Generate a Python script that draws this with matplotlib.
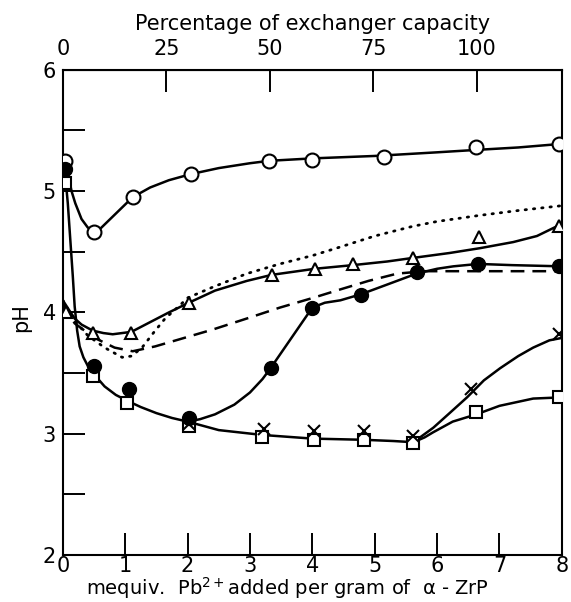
import numpy as np
import matplotlib
matplotlib.use("Agg")
import matplotlib.pyplot as plt
from matplotlib.ticker import FixedLocator, FuncFormatter

# mequiv Pb2+ per gram, pH
open_x = [0.03, 0.5, 1.12, 2.05, 3.31, 4.0, 5.15, 6.63, 7.95]
open_y = [5.25, 4.66, 4.95, 5.14, 5.25, 5.26, 5.28, 5.36, 5.39]

tri_x = [0.05, 0.48, 1.1, 2.02, 3.35, 4.05, 4.65, 5.62, 6.67, 7.96]
tri_y = [4.0, 3.83, 3.83, 4.08, 4.31, 4.36, 4.40, 4.45, 4.62, 4.71]

fill_x = [0.03, 0.5, 1.06, 2.03, 3.33, 4.0, 4.78, 5.67, 6.66, 7.96]
fill_y = [5.18, 3.56, 3.37, 3.13, 3.54, 4.04, 4.14, 4.33, 4.40, 4.38]

sq_x = [0.03, 0.48, 1.03, 2.03, 3.2, 4.02, 4.83, 5.62, 6.63, 7.95]
sq_y = [5.07, 3.48, 3.25, 3.06, 2.97, 2.95, 2.95, 2.92, 3.18, 3.30]

cross_x = [2.02, 3.22, 4.02, 4.83, 5.62, 6.55, 7.95]
cross_y = [3.08, 3.04, 3.02, 3.02, 2.98, 3.37, 3.82]

# drawn curves
open_cx = [0.03, 0.1, 0.14, 0.2, 0.3, 0.4, 0.5, 0.6, 0.8, 1.0, 1.12, 1.4, 1.7, 2.05,
           2.5, 3.0, 3.31, 4.0, 5.0, 6.0, 6.63, 7.3, 8.0]
open_cy = [5.25, 5.1, 5.0, 4.9, 4.77, 4.7, 4.67, 4.69, 4.79, 4.89, 4.95, 5.03, 5.09, 5.14,
           5.19, 5.23, 5.25, 5.27, 5.29, 5.32, 5.34, 5.36, 5.39]

tri_cx = [0.0, 0.1, 0.19, 0.3, 0.48, 0.65, 0.8, 1.1, 1.4, 1.7, 2.02, 2.44, 2.95, 3.35,
          4.04, 4.65, 5.2, 5.62, 6.2, 6.69, 7.22, 7.6, 8.0]
tri_cy = [4.1, 4.02, 3.95, 3.9, 3.85, 3.83, 3.82, 3.84, 3.92, 4.0, 4.08, 4.18, 4.26, 4.31,
          4.36, 4.39, 4.42, 4.45, 4.49, 4.53, 4.58, 4.63, 4.73]

# steep drop shared by filled-circle and square curves
drop_cx = [0.03, 0.08, 0.12, 0.16, 0.19, 0.23, 0.27, 0.33, 0.4, 0.5, 0.67, 0.85, 1.04,
           1.25, 1.5, 1.75, 2.0]
drop_cy = [5.18, 4.9, 4.6, 4.3, 4.05, 3.85, 3.72, 3.63, 3.56, 3.49, 3.39, 3.32, 3.27,
           3.22, 3.17, 3.13, 3.10]

fill_cx = [2.0, 2.2, 2.44, 2.75, 3.0, 3.2, 3.33, 4.0, 4.2, 4.45, 4.78, 5.2, 5.67, 6.0,
           6.26, 6.66, 7.2, 8.0]
fill_cy = [3.10, 3.12, 3.16, 3.24, 3.34, 3.45, 3.54, 4.04, 4.08, 4.10, 4.15, 4.23, 4.32,
           4.36, 4.38, 4.40, 4.39, 4.38]

sq_cx = [2.0, 2.5, 3.2, 4.0, 4.83, 5.3, 5.62, 5.8, 5.93, 6.25, 6.63, 7.0, 7.54, 8.0]
sq_cy = [3.10, 3.03, 2.99, 2.96, 2.95, 2.94, 2.93, 2.97, 3.01, 3.10, 3.16, 3.23, 3.29, 3.30]

cross_cx = [5.62, 5.94, 6.2, 6.48, 6.75, 7.01, 7.3, 7.54, 7.8, 8.0]
cross_cy = [2.93, 3.05, 3.17, 3.30, 3.44, 3.54, 3.64, 3.71, 3.77, 3.79]

dot_cx = [0.0, 0.19, 0.4, 0.67, 0.95, 1.1, 1.27, 1.45, 1.64, 1.88, 2.0, 2.41, 2.95, 3.48,
          4.01, 4.45, 5.0, 5.61, 6.0, 6.68, 7.3, 8.0]
dot_cy = [4.1, 3.93, 3.81, 3.71, 3.63, 3.64, 3.71, 3.83, 3.95, 4.06, 4.12, 4.21, 4.32,
          4.40, 4.47, 4.54, 4.63, 4.71, 4.75, 4.80, 4.84, 4.88]

dash_cx = [0.0, 0.19, 0.51, 0.83, 1.12, 1.48, 1.88, 2.41, 2.95, 3.48, 4.01, 4.45, 4.9,
           5.36, 5.8, 6.5, 8.0]
dash_cy = [4.08, 3.91, 3.79, 3.71, 3.68, 3.72, 3.78, 3.86, 3.95, 4.04, 4.12, 4.19, 4.26,
           4.32, 4.34, 4.34, 4.34]

capacity = 6.64  # mequiv/g at 100 %

fig = plt.figure(figsize=(5.71, 6.02), dpi=100)
ax = fig.add_axes([0.110, 0.078, 0.874, 0.806])

lw = 1.8
kw = dict(color="black", lw=lw, solid_joinstyle="round", solid_capstyle="round")
ax.plot(open_cx, open_cy, **kw)
ax.plot(tri_cx, tri_cy, **kw)
ax.plot(drop_cx, drop_cy, **kw)
ax.plot(fill_cx, fill_cy, **kw)
ax.plot(sq_cx, sq_cy, **kw)
ax.plot(cross_cx, cross_cy, **kw)
ax.plot(dot_cx, dot_cy, color="black", lw=2.0, linestyle=(0, (0.5, 2.5)), dash_capstyle="round")
ax.plot(dash_cx, dash_cy, color="black", lw=1.8, linestyle=(0, (5.5, 3.2)))

mk = dict(linestyle="none", markeredgecolor="black", zorder=5)
ax.plot(open_x, open_y, marker="o", ms=10, mfc="white", mew=1.5, **mk)
ax.plot(tri_x, tri_y, marker="^", ms=9, mfc="white", mew=1.5, **mk)
ax.plot(sq_x, sq_y, marker="s", ms=9, mfc="white", mew=1.5, **mk)
ax.plot(fill_x, fill_y, marker="o", ms=10, mfc="black", mew=1.0, **mk)
ax.plot(cross_x, cross_y, marker="x", ms=8, mew=1.5, **mk)

ax.set_xlim(0, 8)
ax.set_ylim(2, 6)
ax.set_xticks(range(0, 9))
ax.yaxis.set_major_locator(FixedLocator(np.arange(2, 6.01, 0.5)))
ax.yaxis.set_major_formatter(FuncFormatter(lambda v, p: "%d" % v if v == int(v) else ""))
ax.tick_params(axis="both", which="both", direction="in", length=16, width=1.4,
               labelsize=15, top=False, right=False)
ax.tick_params(axis="x", pad=1)
ax.tick_params(axis="y", pad=5)
for s in ax.spines.values():
    s.set_linewidth(1.5)

ax.set_xlabel("mequiv.  Pb$^{2+}$added per gram of  α - ZrP", fontsize=14)
ax.xaxis.set_label_coords(0.45, -0.041)
ax.set_ylabel("pH", fontsize=15)
ax.yaxis.set_label_coords(-0.064, 0.49)

top = ax.secondary_xaxis("top", functions=(lambda u: u / capacity * 100,
                                           lambda p: p * capacity / 100))
top.set_xticks([0, 25, 50, 75, 100])
top.tick_params(direction="in", length=16, width=1.4, labelsize=15, pad=8)
top.set_xlabel("Percentage of exchanger capacity", fontsize=15, labelpad=6)

fig.savefig("out.png", dpi=100)
